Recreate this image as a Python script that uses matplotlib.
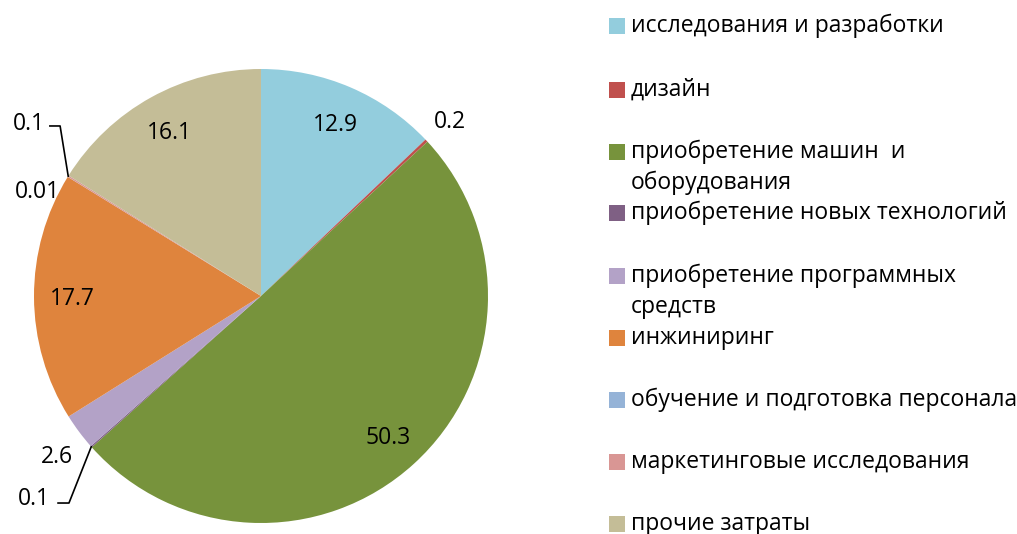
import numpy as np
import matplotlib
matplotlib.use("Agg")
import matplotlib.pyplot as plt
from matplotlib.patches import Rectangle

categories = [
    "исследования и разработки",
    "дизайн",
    "приобретение машин  и\nоборудования",
    "приобретение новых технологий",
    "приобретение программных\nсредств",
    "инжиниринг",
    "обучение и подготовка персонала",
    "маркетинговые исследования",
    "прочие затраты",
]
values = [12.9, 0.2, 50.3, 0.1, 2.6, 17.7, 0.01, 0.1, 16.1]
value_labels = ["12.9", "0.2", "50.3", "0.1", "2.6", "17.7", "0.01", "0.1", "16.1"]
colors = ["#93CDDD", "#C0504D", "#77933C", "#7F6084", "#B3A2C7",
          "#DF843D", "#95B3D7", "#D99694", "#C4BD97"]

plt.rcParams['font.family'] = ['Open Sans', 'DejaVu Sans']
FS = 16.5

W, H = 1017, 534
fig = plt.figure(figsize=(W / 100, H / 100), dpi=100)
cx, cy, R = 261, 296, 227
ax = fig.add_axes([(cx - R) / W, (H - cy - R) / H, 2 * R / W, 2 * R / H])

wedges, _ = ax.pie(values, colors=colors, startangle=90, counterclock=False,
                   radius=1.0, wedgeprops=dict(linewidth=0))
ax.set_xlim(-1, 1)
ax.set_ylim(-1, 1)
ax.set_aspect('equal')
ax.axis('off')

def mid(i):
    w = wedges[i]
    return np.deg2rad((w.theta1 + w.theta2) / 2)

# inside labels
for i in [0, 2, 5, 8]:
    a = mid(i)
    ax.text(0.83 * np.cos(a), 0.83 * np.sin(a) - 0.01, value_labels[i],
            ha='center', va='center', fontsize=FS)

# outside labels
a = mid(1)
ax.text(1.14 * np.cos(a), 1.12 * np.sin(a), value_labels[1],
        ha='center', va='center', fontsize=FS)
ax.text(-0.899, -0.71, value_labels[4], ha='center', va='center', fontsize=FS)

# 0.1 bottom (новые технологии) with leader
a = mid(3)
ax.plot([np.cos(a), -0.846, -0.894], [np.sin(a), -0.912, -0.912],
        color='black', lw=1.2, clip_on=False)
ax.text(-0.93, -0.893, value_labels[3], ha='right', va='center', fontsize=FS)

# 0.01 (обучение)
ax.text(-0.885, 0.457, value_labels[6], ha='right', va='center', fontsize=FS)

# 0.1 top (маркетинг) with leader
a = mid(7)
ax.plot([np.cos(a), -0.885, -0.93], [np.sin(a), 0.749, 0.749],
        color='black', lw=1.2, clip_on=False)
ax.text(-0.95, 0.757, value_labels[7], ha='right', va='center', fontsize=FS)

# legend
slots = [26, 90, 152, 213, 276, 338, 400, 462, 524]
for cat, col, y in zip(categories, colors, slots):
    fig.patches.append(Rectangle((609 / W, 1 - (y + 8) / H), 16 / W, 16 / H,
                                 transform=fig.transFigure, facecolor=col,
                                 edgecolor='none'))
    lines = cat.split('\n')
    for k, line in enumerate(lines):
        fig.text(631 / W, 1 - (y + 31 * k) / H, line, ha='left', va='center',
                 fontsize=FS)

fig.savefig("out.png", dpi=100)
